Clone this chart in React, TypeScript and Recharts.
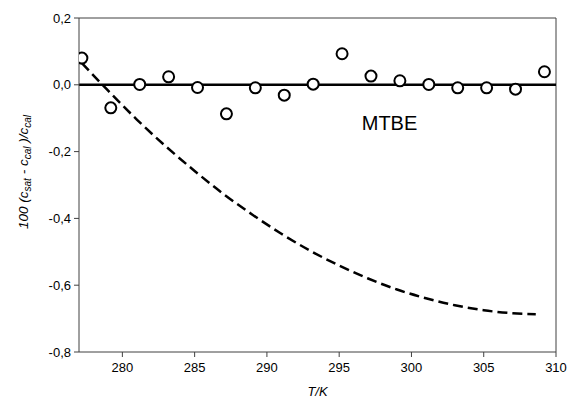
import { ComposedChart, Line, Scatter, XAxis, YAxis, ReferenceLine, Label } from 'recharts'

// measured points (T in K, 100 (c_sat - c_cal)/c_cal)
const measuredT = [277.2, 279.2, 281.2, 283.2, 285.2, 287.2, 289.2, 291.2, 293.2, 295.2, 297.2, 299.2, 301.2, 303.2, 305.2, 307.2, 309.2]
const measuredDev = [0.080, -0.069, 0.001, 0.024, -0.008, -0.087, -0.009, -0.031, 0.002, 0.093, 0.026, 0.012, 0.001, -0.009, -0.009, -0.013, 0.039]

// dashed comparison curve
const curveT = [277.2, 279, 281, 283, 285, 287, 289, 291, 293, 295, 297, 299, 301, 303, 305, 307, 308.6]
const curveDev = [0.065, -0.017, -0.104, -0.184, -0.258, -0.327, -0.389, -0.446, -0.497, -0.541, -0.58, -0.613, -0.639, -0.66, -0.675, -0.684, -0.687]

const xTicks = [280, 285, 290, 295, 300, 305, 310]
const yTicks = [-0.8, -0.6, -0.4, -0.2, 0, 0.2]

const points = measuredT.map((t, i) => ({ x: t, y: measuredDev[i] }))
const curve = curveT.map((t, i) => ({ x: t, y: curveDev[i] }))

const FONT = 'Liberation Sans, Arial, sans-serif'
const AXIS = '#404040'

const fmt = (v: number) => v.toFixed(1).replace('.', ',')

const Circle = (props: any) => (
  <circle cx={props.cx} cy={props.cy} r={5.5} fill="#fff" stroke="#000" strokeWidth={2} />
)

const YLabel = () => (
  <text
    x={0}
    y={0}
    transform="translate(28, 172) rotate(-90)"
    textAnchor="middle"
    fontFamily={FONT}
    fontSize={13.5}
    fontStyle="italic"
    fill="#000"
  >
    <tspan>100 (c</tspan>
    <tspan fontSize={10} dy={3}>sat</tspan>
    <tspan dy={-3}> - c</tspan>
    <tspan fontSize={10} dy={3}>cal</tspan>
    <tspan dy={-3}> )/c</tspan>
    <tspan fontSize={10} dy={3}>cal</tspan>
  </text>
)

export default function App() {
  return (
    <div style={{ position: 'absolute', left: 0, top: 0, background: '#fff' }}>
      <ComposedChart width={569} height={404} margin={{ top: 18, right: 13, left: 0, bottom: 0 }}>
        <XAxis
          type="number"
          dataKey="x"
          domain={[277, 310]}
          ticks={xTicks}
          allowDataOverflow
          height={52}
          stroke={AXIS}
          tickSize={5}
          tickMargin={6}
          tick={{ fill: '#000', fontSize: 13, fontFamily: FONT }}
        >
          <Label
            value="T/K"
            position="insideBottom"
            offset={8}
            style={{ fill: '#000', fontSize: 13, fontFamily: FONT, fontStyle: 'italic' }}
          />
        </XAxis>
        <YAxis
          type="number"
          domain={[-0.8, 0.2]}
          ticks={yTicks}
          width={79}
          stroke={AXIS}
          tickSize={5}
          tickMargin={3}
          tickFormatter={fmt}
          tick={{ fill: '#000', fontSize: 13, fontFamily: FONT }}
          label={{ content: () => <YLabel /> }}
        />
        <ReferenceLine y={0.2} stroke={AXIS} />
        <ReferenceLine x={310} stroke={AXIS} />
        <ReferenceLine y={0} stroke="#000" strokeWidth={2.5} />
        <Line
          data={curve}
          dataKey="y"
          type="monotone"
          stroke="#000"
          strokeWidth={2.5}
          strokeDasharray="10 5"
          dot={false}
          isAnimationActive={false}
        />
        <Scatter data={points} dataKey="y" shape={Circle} isAnimationActive={false} />
        <ReferenceLine
          y={-0.115}
          stroke="none"
          label={{ value: 'MTBE', position: 'center', fill: '#000', fontSize: 20, fontFamily: FONT, dx: 72 }}
        />
      </ComposedChart>
    </div>
  )
}
